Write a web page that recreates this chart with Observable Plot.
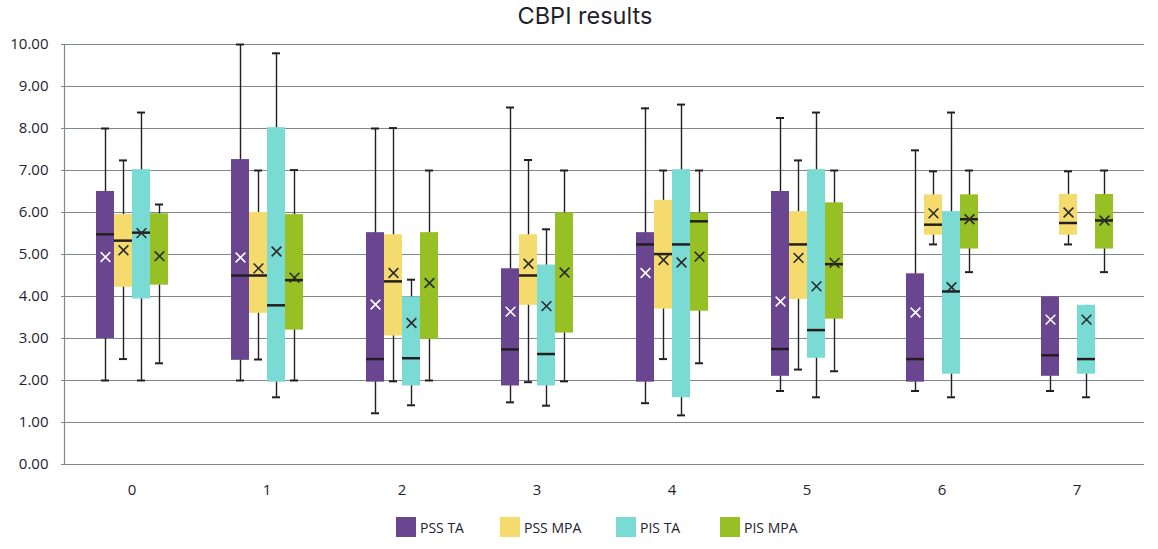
<!DOCTYPE html>
<html>
<head>
<meta charset="utf-8">
<script src="https://cdn.jsdelivr.net/npm/d3@7"></script>
<script src="https://cdn.jsdelivr.net/npm/@observablehq/plot@0.6"></script>
<style>
  html, body { margin: 0; padding: 0; background: #fff; }
  body { width: 1158px; height: 549px; position: relative; overflow: hidden; font-family: "Open Sans", sans-serif; color: #23232f; }
  #title { position: absolute; left: 6px; top: 0; width: 1158px; height: 32px; line-height: 32px; text-align: center; font-family: Inter, "Open Sans", sans-serif; font-size: 23.5px; color: #1f1f2b; }
  #chart { position: absolute; left: 0; top: 30px; }
  #legend { position: absolute; left: 396px; top: 517px; display: flex; font-family: "Liberation Sans Narrow", "Open Sans", sans-serif; font-size: 14px; color: #23232f; }
  .item { display: flex; align-items: center; }
  .sw { width: 20px; height: 20px; margin-right: 4px; }
</style>
</head>
<body>
<div id="title">CBPI results</div>
<div id="chart"></div>
<div id="legend"></div>
<script>
// ---- data ----
const categories = [0, 1, 2, 3, 4, 5, 6, 7];
const series = ["PSS TA", "PSS MPA", "PIS TA", "PIS MPA"];
const colors = ["#6b4690", "#f5db6e", "#7adbd4", "#97c024"];
const meanColors = ["#ffffff", "#2b2b2b", "#2b2b2b", "#2b2b2b"];
const yTicks = [0, 1, 2, 3, 4, 5, 6, 7, 8, 9, 10];

// rows: PSS TA, PSS MPA, PIS TA, PIS MPA ; columns: categories 0..7
const whiskerLow = [
  [2.0, 2.0, 1.22, 1.48, 1.46, 1.75, 1.75, 1.75],
  [2.51, 2.5, 1.98, 1.96, 2.51, 2.26, 5.24, 5.24],
  [2.0, 1.6, 1.41, 1.4, 1.17, 1.6, 1.6, 1.6],
  [2.41, 2.0, 2.0, 1.98, 2.41, 2.22, 4.58, 4.58]
];
const quartile1 = [
  [3.0, 2.48, 1.96, 1.87, 1.96, 2.1, 1.96, 2.1],
  [4.22, 3.6, 3.06, 3.79, 3.7, 3.93, 5.46, 5.46],
  [3.94, 1.96, 1.87, 1.87, 1.59, 2.53, 2.15, 2.15],
  [4.27, 3.2, 2.98, 3.13, 3.65, 3.46, 5.13, 5.13]
];
const medians = [
  [5.48, 4.5, 2.51, 2.74, 5.24, 2.75, 2.51, 2.6],
  [5.33, 4.5, 4.36, 4.5, 5.01, 5.24, 5.71, 5.75],
  [5.52, 3.79, 2.53, 2.63, 5.24, 3.2, 4.12, 2.51],
  [null, 4.39, null, null, 5.79, 4.77, 5.84, 5.81]
];
const quartile3 = [
  [6.5, 7.26, 5.52, 4.66, 5.52, 6.5, 4.54, 3.99],
  [5.95, 6.0, 5.47, 5.47, 6.29, 6.02, 6.42, 6.43],
  [7.02, 8.02, 3.99, 4.75, 7.02, 7.02, 6.02, 3.79],
  [5.97, 5.95, 5.52, 5.99, 5.99, 6.23, 6.42, 6.43]
];
const whiskerHigh = [
  [8.0, 10.0, 8.0, 8.5, 8.48, 8.25, 7.48, 3.99],
  [7.24, 7.0, 8.01, 7.25, 7.0, 7.24, 6.98, 6.98],
  [8.38, 9.79, 4.4, 5.6, 8.57, 8.38, 8.38, 3.79],
  [6.19, 7.01, 7.0, 7.0, 7.0, 7.0, 7.0, 7.0]
];
const means = [
  [4.94, 4.93, 3.81, 3.64, 4.56, 3.88, 3.62, 3.45],
  [5.1, 4.67, 4.56, 4.78, 4.87, 4.92, 5.98, 6.0],
  [5.51, 5.07, 3.37, 3.77, 4.81, 4.24, 4.22, 3.45],
  [4.96, 4.45, 4.32, 4.57, 4.95, 4.8, 5.84, 5.81]
];

// ---- table built from the arrays ----
const rows = [];
series.forEach((s, si) => {
  categories.forEach((c, ci) => {
    rows.push({
      cat: c, series: s,
      low: whiskerLow[si][ci], q1: quartile1[si][ci], med: medians[si][ci],
      q3: quartile3[si][ci], high: whiskerHigh[si][ci], mean: means[si][ci]
    });
  });
});
const medRows = rows.filter(d => d.med != null);
const lowCaps = rows.filter(d => d.low < d.q1);
const highCaps = rows.filter(d => d.high > d.q3);

const gridColor = "#7f898d";
const ink = "#231f20";

const chart = Plot.plot({
  width: 1158,
  height: 474,
  marginTop: 14,
  marginBottom: 40,
  marginLeft: 62,
  marginRight: 12,
  style: { fontFamily: "'Open Sans', sans-serif", fontSize: "15px", color: "#23232f", background: "transparent" },
  fx: { domain: categories, padding: 0, label: null },
  x: { domain: series, paddingInner: 0, paddingOuter: 1.72, axis: null },
  y: { domain: [0, 10], label: null },
  color: { domain: series, range: colors },
  marks: [
    Plot.ruleY(yTicks, { stroke: gridColor, strokeWidth: 1.2 }),
    Plot.frame({ anchor: "left", facetAnchor: "left", stroke: gridColor, strokeWidth: 1.2 }),
    Plot.axisY({ ticks: yTicks, tickFormat: d => d.toFixed(2), tickSize: 3, tickPadding: 13, stroke: gridColor, fill: "#23232f", fontSize: 15, label: null }),
    Plot.axisFx({ anchor: "bottom", tickSize: 0, tickPadding: 20, fontSize: 15, fill: "#23232f", label: null }),
    Plot.ruleX(rows, { fx: "cat", x: "series", y1: "low", y2: "high", stroke: ink, strokeWidth: 1.4 }),
    Plot.tickY(lowCaps, { fx: "cat", x: "series", y: "low", stroke: ink, strokeWidth: 2, insetLeft: 5, insetRight: 5 }),
    Plot.tickY(highCaps, { fx: "cat", x: "series", y: "high", stroke: ink, strokeWidth: 2, insetLeft: 5, insetRight: 5 }),
    Plot.barY(rows, { fx: "cat", x: "series", y1: "q1", y2: "q3", fill: "series" }),
    Plot.tickY(medRows, { fx: "cat", x: "series", y: "med", stroke: ink, strokeWidth: 2.5 }),
    Plot.dot(rows, { fx: "cat", x: "series", y: "mean", symbol: "times", r: 4.5, strokeWidth: 1.6,
      stroke: d => meanColors[series.indexOf(d.series)] })
  ]
});
document.getElementById("chart").appendChild(chart);

// legend
const widths = [104, 116, 104, 80];
const legend = document.getElementById("legend");
series.forEach((s, i) => {
  const item = document.createElement("div");
  item.className = "item";
  item.style.width = widths[i] + "px";
  const sw = document.createElement("div");
  sw.className = "sw";
  sw.style.background = colors[i];
  const lab = document.createElement("span");
  lab.textContent = s;
  item.appendChild(sw);
  item.appendChild(lab);
  legend.appendChild(item);
});
</script>
</body>
</html>
